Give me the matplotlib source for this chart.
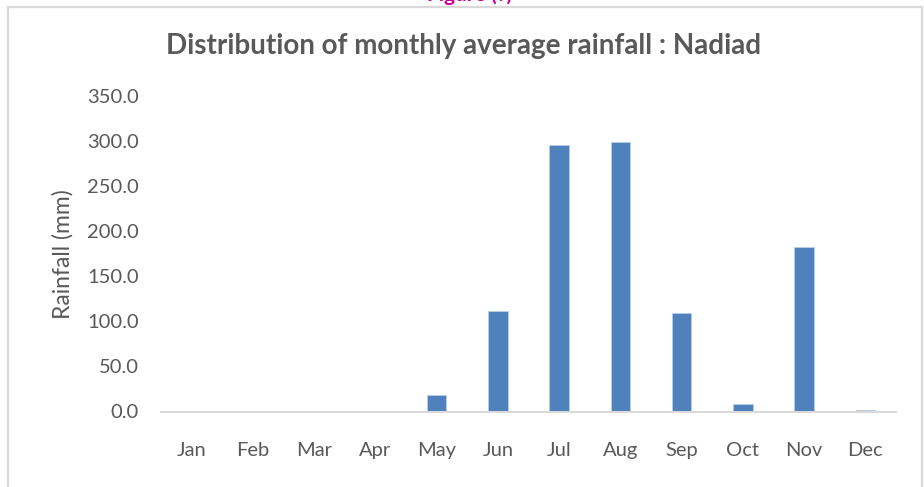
import matplotlib
matplotlib.use("Agg")
import matplotlib.pyplot as plt
from matplotlib.patches import Rectangle

months = ["Jan", "Feb", "Mar", "Apr", "May", "Jun", "Jul", "Aug", "Sep", "Oct", "Nov", "Dec"]
rainfall = [0.0, 0.0, 0.0, 0.0, 18.6, 111.0, 295.6, 298.6, 109.2, 8.5, 182.6, 1.2]
yticks = [0, 50, 100, 150, 200, 250, 300, 350]

W, H = 924, 487
fig = plt.figure(figsize=(W / 100, H / 100), dpi=100)
plt.rcParams['font.family'] = ['Lato', 'DejaVu Sans']

# chart frame
fig.patches.append(Rectangle((8 / W, -0.05), (922 - 8) / W, 1.05 - 7 / H,
                             transform=fig.transFigure, fill=False,
                             edgecolor="#D9D9D9", linewidth=1.6))
# caption at top, cut by the image edge as in the reference
fig.text(470 / W, 1 + 5 / H, "Figure (?)", color="#CC0099", fontsize=15,
         fontweight="bold", ha="center", va="center")

left, right = 161 / W, 896 / W
bottom, top = 1 - 411.5 / H, 1 - 96 / H
ax = fig.add_axes([left, bottom, right - left, top - bottom])
x = list(range(len(months)))
ax.bar(x, rainfall, width=0.32, color="#4F81BD", edgecolor="#B9CDE5", linewidth=0.6)
ax.set_xlim(-0.5, len(months) - 0.5)
ax.set_ylim(0, 350)
ax.set_yticks(yticks)
ax.set_yticklabels([f"{v:.1f}" for v in yticks])
ax.set_xticks(x)
ax.set_xticklabels(months)
for s in ["top", "right", "left"]:
    ax.spines[s].set_visible(False)
ax.spines["bottom"].set_color("#D9D9D9")
ax.spines["bottom"].set_linewidth(1.5)
ax.tick_params(axis="both", length=0, labelsize=14.5, colors="#595959")
ax.tick_params(axis="y", pad=16)
ax.tick_params(axis="x", pad=22)
ax.set_ylabel("Rainfall (mm)", fontsize=16.5, color="#595959", labelpad=10)
fig.text(464 / W, 1 - 46 / H, "Distribution of monthly average rainfall : Nadiad",
         ha="center", va="center", fontsize=20, fontweight="bold", color="#595959")

fig.savefig("out.png", dpi=100)
